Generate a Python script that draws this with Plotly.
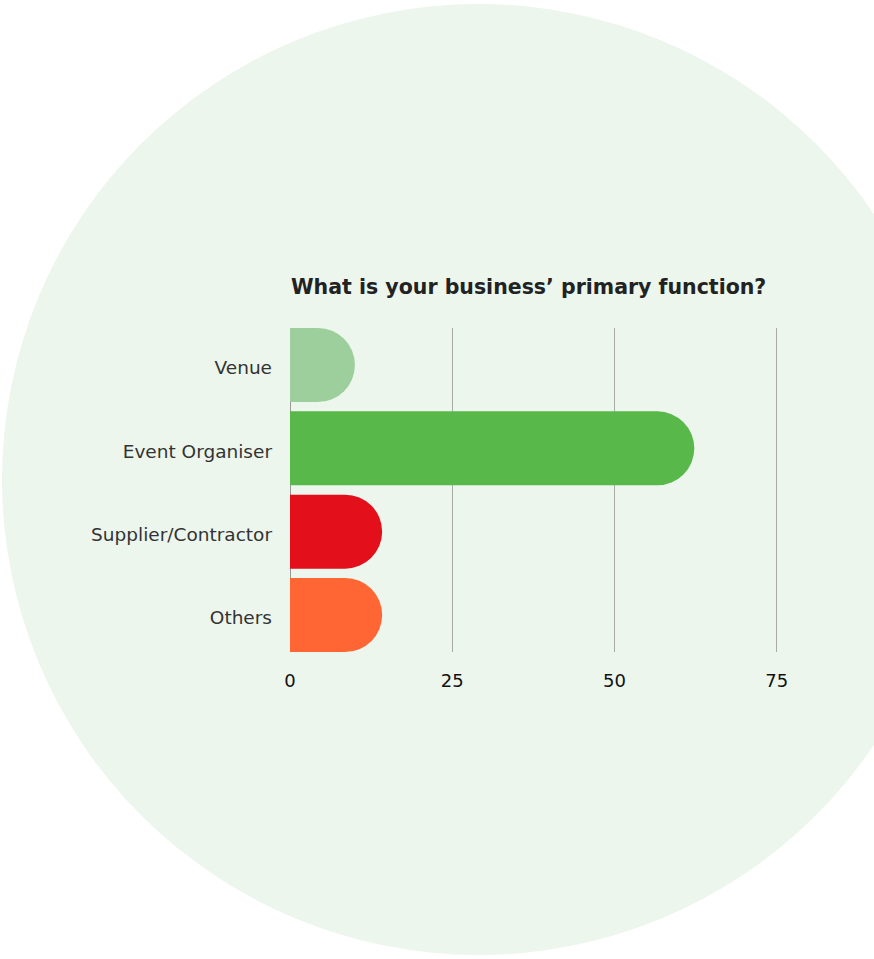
import plotly.graph_objects as go

categories = ["Venue", "Event Organiser", "Supplier/Contractor", "Others"]
values = [10, 62.3, 14.2, 14.2]
bar_colors = ["#9ccf9b", "#58b84a", "#e30f1b", "#ff6633"]
tick_vals = [0, 25, 50, 75]
title_text = "What is your business’ primary function?"

W, H = 874, 959
L, R, T, B = 290, 790, 328, 652  # plot area in pixels

def px_x(p):
    return (p - L) / (R - L)

def px_y(p):
    return (B - p) / (B - T)

fig = go.Figure()
fig.add_trace(go.Bar(
    y=categories,
    x=values,
    orientation="h",
    marker=dict(color=bar_colors, line=dict(width=0), cornerradius="50%"),
    width=0.888,
    hoverinfo="skip",
))

font_family = "'DejaVu Sans', sans-serif"

fig.update_layout(
    width=W, height=H,
    margin=dict(l=L, r=W - R, t=T, b=H - B, pad=0),
    paper_bgcolor="white",
    plot_bgcolor="rgba(0,0,0,0)",
    showlegend=False,
    font=dict(family=font_family, color="#333333"),
    xaxis=dict(
        range=[0, 77.04],
        tickvals=tick_vals,
        showgrid=True,
        gridcolor="#aaaaaa",
        gridwidth=1,
        zeroline=True,
        zerolinecolor="#999999",
        zerolinewidth=1,
        showline=False,
        ticks="",
        tickfont=dict(size=18, color="#111111"),
        ticklabelstandoff=16,
        fixedrange=True,
    ),
    yaxis=dict(
        categoryorder="array",
        categoryarray=categories,
        range=[3.444, -0.444],
        showgrid=False,
        zeroline=False,
        ticks="",
        tickfont=dict(size=18.5, color="#333333"),
        ticklabelstandoff=17,
        ticklabelshift=-3,
        fixedrange=True,
    ),
    shapes=[dict(
        type="circle", xref="paper", yref="paper", layer="below",
        x0=px_x(2), x1=px_x(955), y0=px_y(955), y1=px_y(4),
        fillcolor="#ecf6ec", line=dict(width=0),
    )],
    annotations=[dict(
        text="<b>" + title_text + "</b>",
        xref="paper", yref="paper",
        x=px_x(289), y=px_y(287),
        xanchor="left", yanchor="middle",
        showarrow=False,
        font=dict(size=20.5, color="#222222", family=font_family),
    )],
)

fig.write_html(
    "out.html",
    config={"displayModeBar": False, "staticPlot": True},
    post_script="document.body.style.margin='0';document.body.style.overflow='hidden';",
)
